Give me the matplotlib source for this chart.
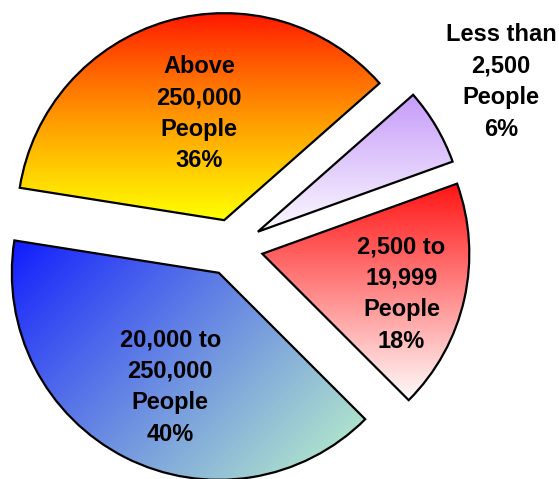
import numpy as np
import matplotlib
matplotlib.use("Agg")
import matplotlib.pyplot as plt

# ---- data ----
categories = ["Above\n250,000\nPeople", "Less than\n2,500\nPeople",
              "2,500 to\n19,999\nPeople", "20,000 to\n250,000\nPeople"]
shares = [36, 6, 18, 40]
pct_labels = ["36%", "6%", "18%", "40%"]

# ---- style ----
radius = 207
explode_frac = [0.135, 0.145, 0.15, 0.14]
label_frac = [0.53, 1.38, 0.70, 0.60]
label_angle_shift = [-3, 1, -3.5, 4]
# gradient (start colour, end colour, direction vector, gamma)
grads = [
    ((255, 20, 0), (255, 255, 0), (0, -1), 0.85),         # red top -> yellow bottom
    ((198, 156, 250), (252, 250, 255), (0, -1), 1.0),     # purple top -> white bottom
    ((255, 20, 20), (255, 252, 252), (0, -1), 1.0),       # red top -> white bottom
    ((15, 25, 255), (190, 245, 200), (1, -1), 0.9),       # blue top-left -> green bottom-right
]

W, H = 559, 479
fig = plt.figure(figsize=(W / 100, H / 100), dpi=100)
ax = fig.add_axes([0, 0, 1, 1])

center = (232, 232)
wedges, _ = ax.pie(shares, explode=[e * radius for e in explode_frac],
                   startangle=171, counterclock=False,
                   center=center, radius=radius,
                   wedgeprops=dict(linewidth=1.6, edgecolor="black"))

for w, (c0, c1, d, g) in zip(wedges, grads):
    ext = w.get_path().get_extents()
    x0, y0, x1, y1 = ext.x0, ext.y0, ext.x1, ext.y1
    n = 256
    xs = np.linspace(x0, x1, n)
    ys = np.linspace(y1, y0, n)  # top row first
    X, Y = np.meshgrid(xs, ys)
    d = np.array(d, float)
    d /= np.linalg.norm(d)
    proj = X * d[0] + Y * d[1]
    t = ((proj - proj.min()) / (proj.max() - proj.min())) ** g
    c0a = np.array(c0) / 255.0
    c1a = np.array(c1) / 255.0
    img = c0a[None, None, :] * (1 - t[..., None]) + c1a[None, None, :] * t[..., None]
    ax.imshow(img, extent=(x0, x1, y0, y1), origin="upper", zorder=1,
              clip_path=w, interpolation="bilinear")
    w.set_facecolor("none")
    w.set_zorder(2)

for w, cat, pct, fr, sh in zip(wedges, categories, pct_labels, label_frac, label_angle_shift):
    mid = np.deg2rad((w.theta1 + w.theta2) / 2 + sh)
    cx, cy = w.center
    ax.text(cx + fr * w.r * np.cos(mid), cy + fr * w.r * np.sin(mid),
            cat + "\n" + pct, ha="center", va="center",
            fontsize=17, fontweight="bold", family="Liberation Sans",
            linespacing=1.47, zorder=5)

ax.set_xlim(0, W)
ax.set_ylim(0, H)
ax.set_aspect("equal")
ax.axis("off")
fig.savefig("out.png", dpi=100)
